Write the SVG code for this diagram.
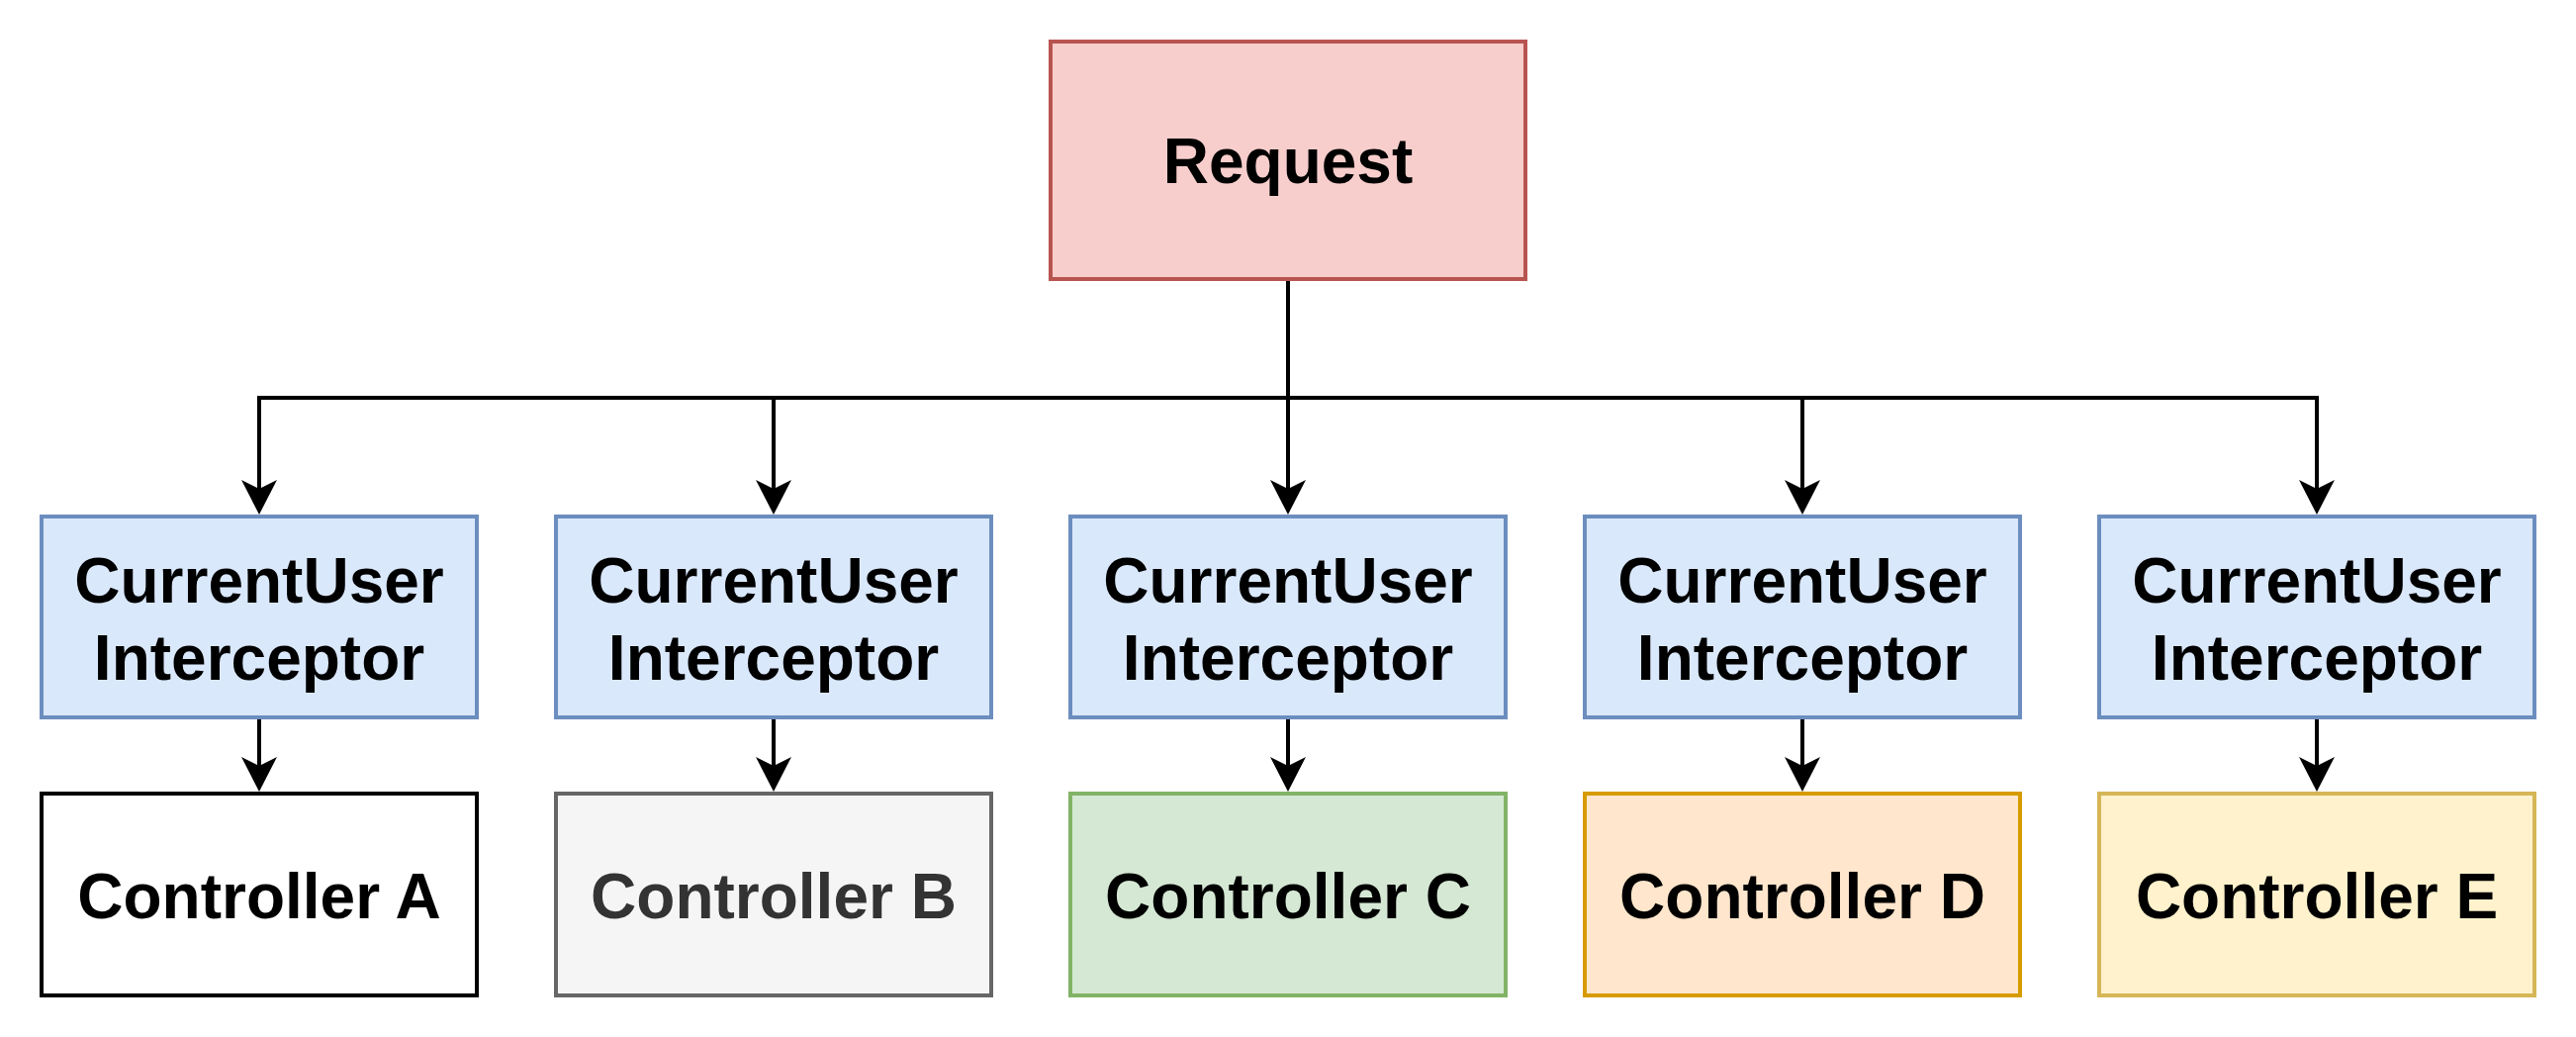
<svg xmlns="http://www.w3.org/2000/svg" width="2604" height="1048" viewBox="0 0 2604 1048">
  <defs>
    <style>
      .box { stroke-width: 4; }
      .lbl { font-family: "Liberation Sans", Arial, Helvetica, sans-serif; font-weight: bold; font-size: 64px; text-anchor: middle; fill: #000000; }
      .req { fill: #f8cecc; stroke: #b85450; }
      .icp { fill: #dae8fc; stroke: #6c8ebf; }
      .ca { fill: #ffffff; stroke: #000000; }
      .cb { fill: #f5f5f5; stroke: #666666; }
      .cc { fill: #d5e8d4; stroke: #82b366; }
      .cd { fill: #ffe6cc; stroke: #d79b00; }
      .ce { fill: #fff2cc; stroke: #d6b656; }
      .edge { fill: none; stroke: #000000; stroke-width: 4; marker-end: url(#arrow); }
    </style>
    <marker id="arrow" markerUnits="userSpaceOnUse" orient="auto" refX="0" refY="0" markerWidth="40" markerHeight="40" overflow="visible">
      <path d="M26,0 L-9,-18 L0,0 L-9,18 Z" fill="#000000" stroke="none"/>
    </marker>
  </defs>
  <rect width="2604" height="1048" fill="#ffffff"/>

  <g id="connectors">
    <path class="edge" d="M1302 282 V402 H262 V494"/>
    <path class="edge" d="M1302 282 V402 H782 V494"/>
    <path class="edge" d="M1302 282 V494"/>
    <path class="edge" d="M1302 282 V402 H1822 V494"/>
    <path class="edge" d="M1302 282 V402 H2342 V494"/>
    <path class="edge" d="M262 725 V774"/>
    <path class="edge" d="M782 725 V774"/>
    <path class="edge" d="M1302 725 V774"/>
    <path class="edge" d="M1822 725 V774"/>
    <path class="edge" d="M2342 725 V774"/>
  </g>

  <g id="request">
    <rect class="box req" x="1062" y="42" width="480" height="240"/>
    <text class="lbl" x="1302" y="185">Request</text>
  </g>

  <g id="interceptor-a">
    <rect class="box icp" x="42" y="522" width="440" height="203"/>
    <text class="lbl" x="262" y="609">CurrentUser</text>
    <text class="lbl" x="262" y="687">Interceptor</text>
  </g>
  <g id="interceptor-b">
    <rect class="box icp" x="562" y="522" width="440" height="203"/>
    <text class="lbl" x="782" y="609">CurrentUser</text>
    <text class="lbl" x="782" y="687">Interceptor</text>
  </g>
  <g id="interceptor-c">
    <rect class="box icp" x="1082" y="522" width="440" height="203"/>
    <text class="lbl" x="1302" y="609">CurrentUser</text>
    <text class="lbl" x="1302" y="687">Interceptor</text>
  </g>
  <g id="interceptor-d">
    <rect class="box icp" x="1602" y="522" width="440" height="203"/>
    <text class="lbl" x="1822" y="609">CurrentUser</text>
    <text class="lbl" x="1822" y="687">Interceptor</text>
  </g>
  <g id="interceptor-e">
    <rect class="box icp" x="2122" y="522" width="440" height="203"/>
    <text class="lbl" x="2342" y="609">CurrentUser</text>
    <text class="lbl" x="2342" y="687">Interceptor</text>
  </g>

  <g id="controller-a">
    <rect class="box ca" x="42" y="802" width="440" height="204"/>
    <text class="lbl" x="262" y="928">Controller A</text>
  </g>
  <g id="controller-b">
    <rect class="box cb" x="562" y="802" width="440" height="204"/>
    <text class="lbl" x="782" y="928" style="fill:#333333">Controller B</text>
  </g>
  <g id="controller-c">
    <rect class="box cc" x="1082" y="802" width="440" height="204"/>
    <text class="lbl" x="1302" y="928">Controller C</text>
  </g>
  <g id="controller-d">
    <rect class="box cd" x="1602" y="802" width="440" height="204"/>
    <text class="lbl" x="1822" y="928">Controller D</text>
  </g>
  <g id="controller-e">
    <rect class="box ce" x="2122" y="802" width="440" height="204"/>
    <text class="lbl" x="2342" y="928">Controller E</text>
  </g>
</svg>
